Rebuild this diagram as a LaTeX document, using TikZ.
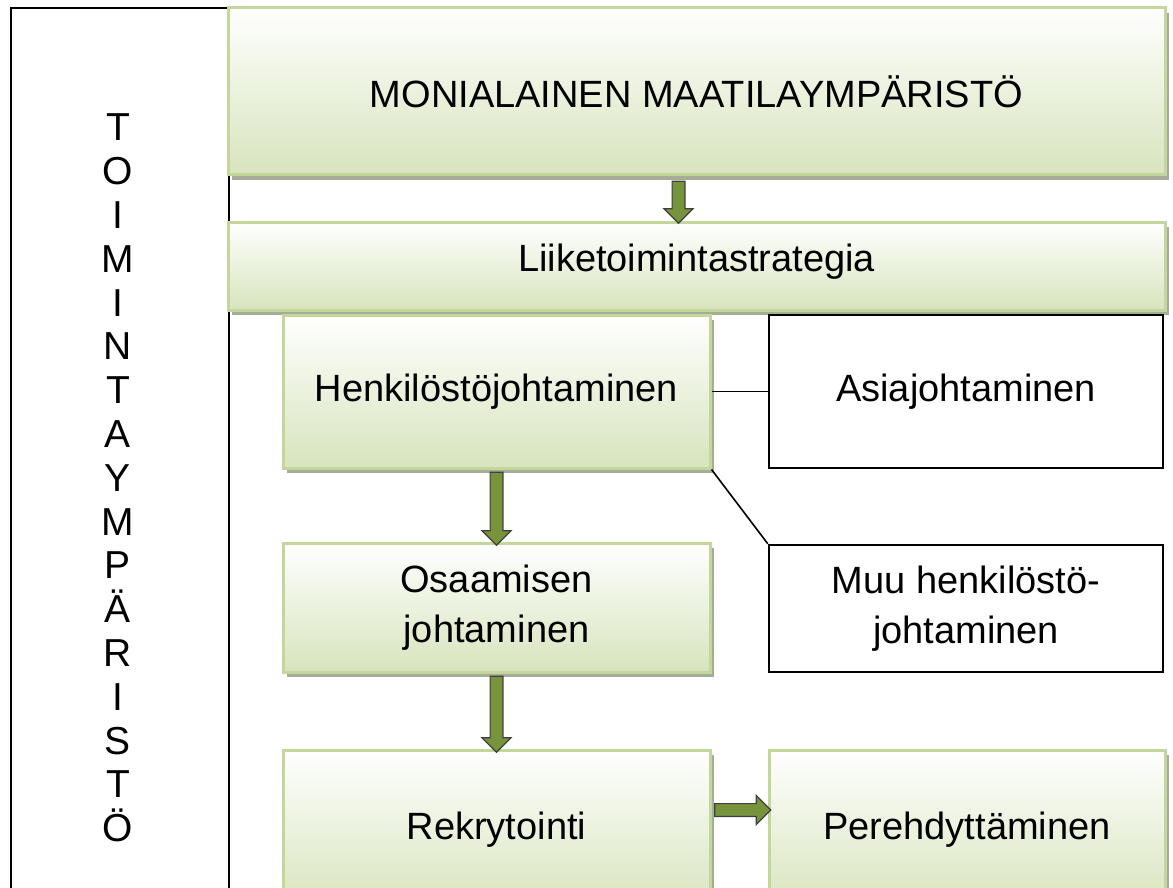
\documentclass[tikz,border=0pt]{standalone}
\usepackage{fontspec}
\setmainfont{Liberation Sans}
\usepackage{tikz}
\usetikzlibrary{shapes, shapes.arrows, arrows.meta, positioning, calc, shadows}
\definecolor{green1}{RGB}{195, 214, 155}
\definecolor{green2}{RGB}{215, 228, 189}
\definecolor{olive1}{RGB}{119, 147, 60}
\definecolor{shadow1}{RGB}{166, 172, 150}

\begin{document}
\begin{tikzpicture}[x=0.5pt, y=-0.5pt,
  every node/.style={font=\fontsize{19}{25}\selectfont, align=center, inner sep=0pt},
  greenbox/.style={draw=green1, line width=1.5pt, top color=white, bottom color=green2,
    drop shadow={shadow xshift=2pt, shadow yshift=-2.5pt, fill=shadow1, opacity=1}},
  plainbox/.style={draw=black, line width=1.2pt, fill=white},
  blockarrow/.style={single arrow, draw=black!75, line width=0.6pt, fill=olive1,
    inner xsep=0pt, inner ysep=2.9pt, single arrow head extend=4pt}
]
  \useasboundingbox (0,0) rectangle (1173,888);
  \clip (0,0) rectangle (1173,888);

  % surrounding frame
  \draw[line width=1.2pt] (11,8) rectangle (229,930);
  \node[font=\fontsize{19.5}{21.9}\selectfont] (side) at (118,478)
    {T\\O\\I\\M\\I\\N\\T\\A\\Y\\M\\P\\Ä\\R\\I\\S\\T\\Ö};

  % boxes
  \node[greenbox, minimum width=468.5pt, minimum height=83.5pt] (env) at (696.5,91.5)
    {MONIALAINEN MAATILAYMPÄRISTÖ};
  \node[greenbox, minimum width=468.5pt, minimum height=44pt, text depth=8pt] (strat) at (696.5,266)
    {Liiketoimintastrategia};
  \node[greenbox, minimum width=213.5pt, minimum height=76.5pt] (henk) at (496.5,391.5)
    {Henkilöstöjohtaminen};
  \node[plainbox, minimum width=197pt, minimum height=76.5pt] (asia) at (966,391.5)
    {Asiajohtaminen};
  \node[greenbox, minimum width=213.5pt, minimum height=64.5pt] (osaa) at (496.5,607.5)
    {Osaamisen\\johtaminen};
  \node[plainbox, minimum width=197pt, minimum height=63.5pt] (muu) at (966,608.5)
    {Muu henkilöstö-\\johtaminen};
  \node[greenbox, minimum width=213.5pt, minimum height=80pt] (rekr) at (496.5,830)
    {Rekrytointi};
  \node[greenbox, minimum width=198pt, minimum height=80pt] (pere) at (967,830)
    {Perehdyttäminen};

  % connectors
  \draw[line width=0.8pt] (henk.east) -- (asia.west);
  \draw[line width=0.8pt] (henk.south east) -- (muu.north west);

  \path ($(env.south)+(-18,2)$) -- ($(strat.north)+(-18,-1)$)
    node[blockarrow, midway, sloped, minimum height=21pt] {};
  \path (henk.south) -- (osaa.north)
    node[blockarrow, midway, sloped, minimum height=36.5pt] {};
  \path (osaa.south) -- (rekr.north)
    node[blockarrow, midway, sloped, minimum height=38pt] {};
  \path ($(rekr.east)+(0,-20)$) -- ($(pere.west)+(0,-20)$)
    node[blockarrow, midway, sloped, minimum height=28pt] {};
\end{tikzpicture}
\end{document}
